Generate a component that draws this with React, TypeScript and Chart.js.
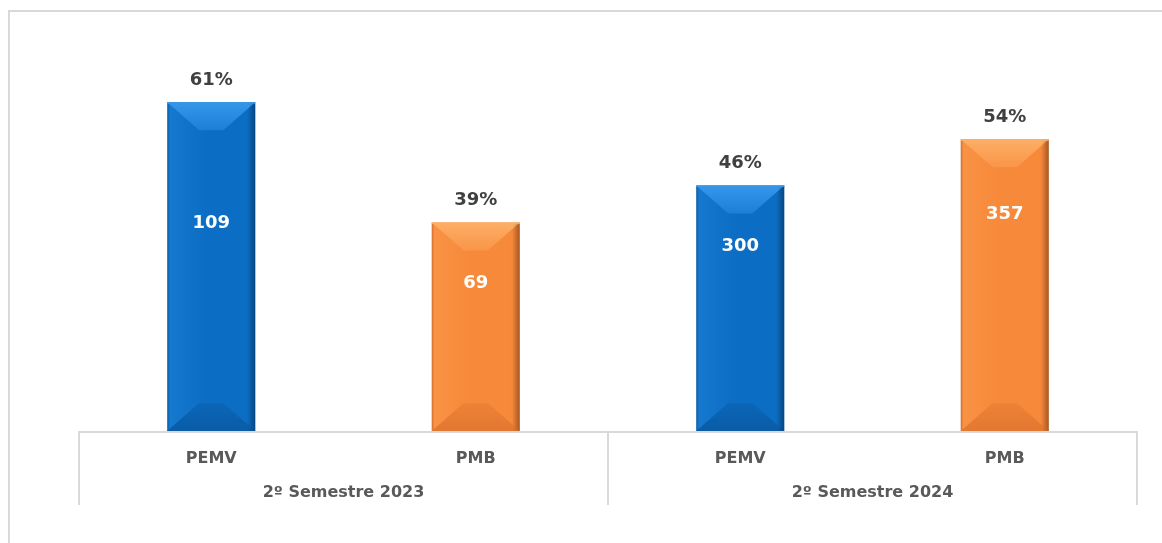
import React, { useEffect, useRef } from "react";
import { Chart, registerables } from "chart.js";

Chart.register(...registerables);

// ---- data ----
const categories = ["PEMV", "PMB", "PEMV", "PMB"];
const groups = ["2º Semestre 2023", "2º Semestre 2024"];
const counts = [109, 69, 300, 357];
const percents = [61.2, 38.8, 45.7, 54.3];
const percentLabels = ["61%", "39%", "46%", "54%"];

// ---- styles ----
const W = 1162;
const H = 543;
const FONT = "'DejaVu Sans', sans-serif";
const PALETTE = [
  { main: "#0B6DC3", light: "#1579CF", dark: "#0A589F", top: "#3697EA", topMid: "#1C80D6", bottom: "#0B66B8", bottomEdge: "#0A5CA6" },
  { main: "#F7893A", light: "#F99244", dark: "#D06D2C", top: "#FDAE66", topMid: "#F99548", bottom: "#EE8237", bottomEdge: "#E27831" },
];
const barColorIndex = [0, 1, 0, 1];
const innerLabelOffset = [121, 61, 61, 75];

function barGradient(ctx: CanvasRenderingContext2D, left: number, right: number, c: any) {
  const g = ctx.createLinearGradient(left, 0, right, 0);
  g.addColorStop(0, c.dark);
  g.addColorStop(0.03, c.light);
  g.addColorStop(0.45, c.main);
  g.addColorStop(0.9, c.main);
  g.addColorStop(1, c.dark);
  return g;
}

const decorPlugin = {
  id: "decor",
  beforeDraw(chart: any) {
    const ctx = chart.ctx;
    ctx.save();
    ctx.fillStyle = "#ffffff";
    ctx.fillRect(0, 0, chart.width, chart.height);
    ctx.strokeStyle = "#D9D9D9";
    ctx.lineWidth = 2;
    ctx.beginPath();
    ctx.moveTo(9, H);
    ctx.lineTo(9, 11);
    ctx.lineTo(W, 11);
    ctx.stroke();
    ctx.restore();
  },
  afterDatasetsDraw(chart: any) {
    const ctx = chart.ctx;
    const meta = chart.getDatasetMeta(0);
    const area = chart.chartArea;
    const xs = chart.scales.x;
    ctx.save();
    meta.data.forEach((bar: any, i: number) => {
      const c = PALETTE[barColorIndex[i]];
      const L = bar.x - bar.width / 2;
      const R = bar.x + bar.width / 2;
      const T = bar.y;
      const B = bar.base;
      const d = 28;
      const inset = 32;
      // body
      ctx.fillStyle = barGradient(ctx, L, R, c);
      ctx.fillRect(L, T, R - L, B - T);
      // top bevel
      const tg = ctx.createLinearGradient(0, T, 0, T + d);
      tg.addColorStop(0, c.top);
      tg.addColorStop(1, c.topMid);
      ctx.fillStyle = tg;
      ctx.beginPath();
      ctx.moveTo(L, T);
      ctx.lineTo(R, T);
      ctx.lineTo(R - inset, T + d);
      ctx.lineTo(L + inset, T + d);
      ctx.closePath();
      ctx.fill();
      // bottom bevel
      const bg = ctx.createLinearGradient(0, B - d, 0, B);
      bg.addColorStop(0, c.bottom);
      bg.addColorStop(1, c.bottomEdge);
      ctx.fillStyle = bg;
      ctx.beginPath();
      ctx.moveTo(L, B);
      ctx.lineTo(R, B);
      ctx.lineTo(R - inset, B - d);
      ctx.lineTo(L + inset, B - d);
      ctx.closePath();
      ctx.fill();
      // right edge shade
      const rg = ctx.createLinearGradient(R - 7, 0, R, 0);
      rg.addColorStop(0, "rgba(0,0,0,0)");
      rg.addColorStop(1, "rgba(0,0,0,0.2)");
      ctx.fillStyle = rg;
      ctx.fillRect(R - 7, T, 7, B - T);
      // top highlight line
      ctx.fillStyle = c.top;
      ctx.fillRect(L, T, R - L, 1.5);

      // labels
      ctx.textAlign = "center";
      ctx.textBaseline = "middle";
      ctx.font = `bold 18px ${FONT}`;
      ctx.fillStyle = "#404040";
      ctx.fillText(percentLabels[i], bar.x, T - 22);
      ctx.fillStyle = "#FFFFFF";
      ctx.fillText(String(counts[i]), bar.x, T + innerLabelOffset[i]);
    });

    // axis table
    const base = area.bottom;
    ctx.strokeStyle = "#D9D9D9";
    ctx.lineWidth = 2;
    ctx.beginPath();
    ctx.moveTo(area.left, base + 1);
    ctx.lineTo(area.right, base + 1);
    const mid = (xs.getPixelForValue(1) + xs.getPixelForValue(2)) / 2;
    [area.left, mid, area.right].forEach((x: number) => {
      ctx.moveTo(x, base);
      ctx.lineTo(x, base + 74);
    });
    ctx.stroke();

    ctx.font = `bold 16px ${FONT}`;
    ctx.fillStyle = "#595959";
    categories.forEach((cat, i) => {
      ctx.fillText(cat, xs.getPixelForValue(i), base + 28);
    });
    groups.forEach((g, gi) => {
      const x = (xs.getPixelForValue(gi * 2) + xs.getPixelForValue(gi * 2 + 1)) / 2;
      ctx.fillText(g, x, base + 62);
    });
    ctx.restore();
  },
};

export default function App() {
  const ref = useRef<HTMLCanvasElement | null>(null);
  useEffect(() => {
    if (!ref.current) return;
    const chart = new Chart(ref.current, {
      type: "bar",
      data: {
        labels: categories,
        datasets: [
          {
            data: percents,
            backgroundColor: "rgba(0,0,0,0)",
            borderWidth: 0,
            categoryPercentage: 0.333,
            barPercentage: 1,
          },
        ],
      },
      options: {
        responsive: false,
        animation: false,
        devicePixelRatio: 1,
        layout: { padding: { left: 79, right: W - 1137, top: 55, bottom: H - 431 } },
        plugins: { legend: { display: false }, tooltip: { enabled: false } },
        scales: {
          x: { display: false },
          y: { display: false, min: 0, max: 70 },
        },
      },
      plugins: [decorPlugin],
    });
    return () => chart.destroy();
  }, []);
  return (
    <div style={{ position: "absolute", left: 0, top: 0, width: W, height: H }}>
      <canvas ref={ref} width={W} height={H} style={{ width: W, height: H, display: "block" }} />
    </div>
  );
}
